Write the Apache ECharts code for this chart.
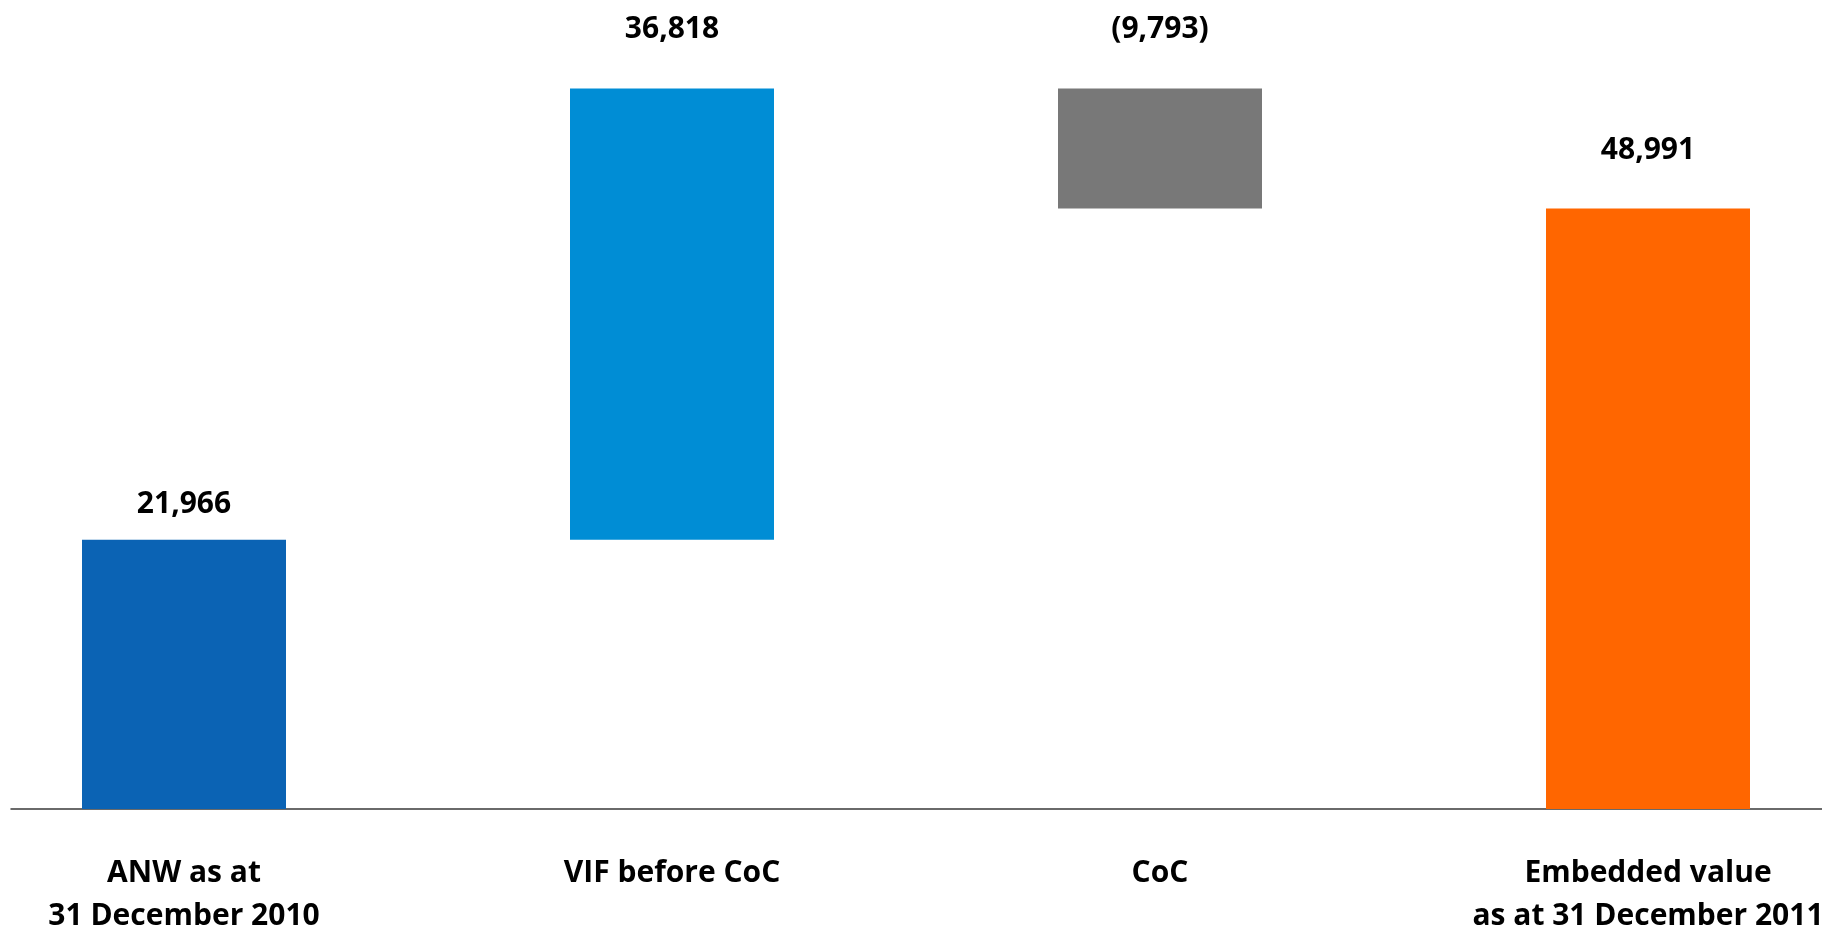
<!DOCTYPE html>
<html>
<head>
<meta charset="utf-8">
<style>
  html, body { margin: 0; padding: 0; background: #ffffff; }
  #chart { width: 1822px; height: 928px; }
</style>
<script src="https://cdn.jsdelivr.net/npm/echarts@6/dist/echarts.min.js"></script>
</head>
<body>
<div id="chart"></div>
<script>
// Embedded value walk (in millions)
const categories = ['ANW as at\n31 December 2010', 'VIF before CoC', 'CoC', 'Embedded value\nas at 31 December 2011'];
const changes = [21966, 36818, -9793, 48991];
const isTotal = [true, false, false, true];
const barColors = ['#0b63b4', '#008dd5', '#787878', '#ff6600'];
const labelGaps = [17, 41, 41, 40];

// Build the invisible base and visible segment of each waterfall step
const baseValues = [];
const barValues = [];
let running = 0;
changes.forEach((v, i) => {
  if (isTotal[i]) {
    baseValues.push(0);
    barValues.push(v);
    running = v;
  } else {
    const next = running + v;
    baseValues.push(Math.min(running, next));
    barValues.push(Math.abs(v));
    running = next;
  }
});

const fmt = v => {
  const s = Math.abs(v).toLocaleString('en-US');
  return v < 0 ? '(' + s + ')' : s;
};

const fontFamily = '"Open Sans", "Noto Sans", sans-serif';

const chart = echarts.init(document.getElementById('chart'), null, { renderer: 'canvas' });
chart.setOption({
  animation: false,
  backgroundColor: '#ffffff',
  grid: [
    { left: -60, right: -70, bottom: 119, height: 735.4, outerBoundsMode: 'none', containLabel: false },
    { left: 11, right: 0, bottom: 119, height: 735.4, outerBoundsMode: 'none', containLabel: false }
  ],
  xAxis: [
    {
      type: 'category',
      gridIndex: 0,
      data: categories,
      axisLine: { show: false },
      axisTick: { show: false },
      axisLabel: {
        margin: 43,
        color: '#000000',
        fontFamily: fontFamily,
        fontWeight: 'bold',
        fontSize: 30,
        lineHeight: 43,
        interval: 0
      }
    },
    {
      type: 'category',
      gridIndex: 1,
      data: [''],
      axisLine: { show: true, lineStyle: { color: '#3a3a3a', width: 1.5 } },
      axisTick: { show: false },
      axisLabel: { show: false }
    }
  ],
  yAxis: [
    { type: 'value', gridIndex: 0, min: 0, max: 60000, show: false, splitLine: { show: false } },
    { type: 'value', gridIndex: 1, min: 0, max: 60000, show: false, splitLine: { show: false } }
  ],
  series: [
    {
      type: 'bar',
      stack: 'walk',
      barWidth: 204,
      silent: true,
      itemStyle: { color: 'transparent' },
      data: baseValues
    },
    {
      type: 'bar',
      stack: 'walk',
      barWidth: 204,
      data: barValues.map((v, i) => ({
        value: v,
        itemStyle: { color: barColors[i] },
        label: { distance: labelGaps[i] }
      })),
      label: {
        show: true,
        position: 'top',
        color: '#000000',
        fontFamily: fontFamily,
        fontWeight: 'bold',
        fontSize: 30,
        lineHeight: 36,
        formatter: p => fmt(changes[p.dataIndex])
      }
    }
  ]
});
</script>
</body>
</html>
